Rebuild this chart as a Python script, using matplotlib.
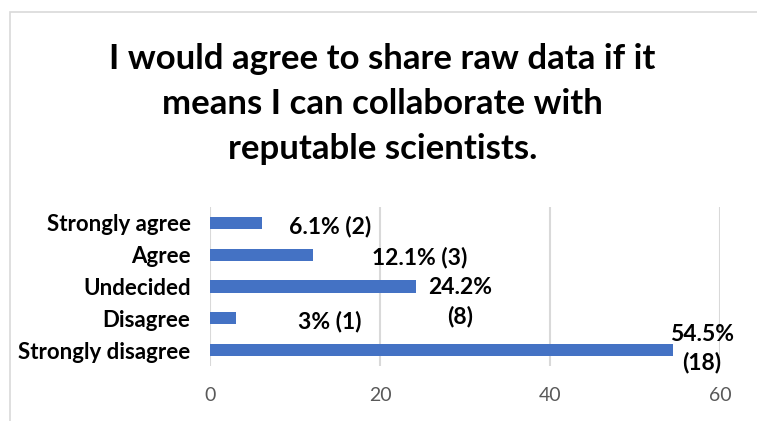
import matplotlib
matplotlib.use("Agg")
import matplotlib.pyplot as plt
from matplotlib.patches import Rectangle

plt.rcParams['font.family'] = ['Lato', 'DejaVu Sans']

categories = ["Strongly agree", "Agree", "Undecided", "Disagree", "Strongly disagree"]
percents = [6.1, 12.1, 24.2, 3, 54.5]
counts = [2, 3, 8, 1, 18]
label_breaks = [False, False, True, False, True]
# label anchor offsets (data units) from the bar end
label_dx = [8.0, 12.6, 5.2, 11.1, 3.4]
label_dy = [0.1, 0.1, 0.5, 0.1, -0.05]

title = "I would agree to share raw data if it\nmeans I can collaborate with\nreputable scientists."
xticks = [0, 20, 40, 60]

W, H = 757, 421
fig = plt.figure(figsize=(W / 100, H / 100), dpi=100)

# chart frame
fig.patches.append(Rectangle((10 / W, -0.1), 1.2, (H - 12) / H + 0.1,
                             transform=fig.transFigure, fill=False,
                             edgecolor="#d9d9d9", linewidth=1.2))

ax = fig.add_axes([210 / W, (H - 366) / H, 510 / W, 159 / H])
y = list(range(len(categories)))
ax.barh(y, percents, height=0.38, color="#4472C4", zorder=3)
ax.set_ylim(len(categories) - 0.5, -0.5)
ax.set_xlim(0, 60)
ax.set_xticks(xticks)
ax.set_xticklabels([str(t) for t in xticks], color="#595959", fontsize=14)
ax.set_yticks(y)
ax.set_yticklabels(categories, fontsize=16, fontweight="bold", color="black")
ax.tick_params(axis="both", length=0)
ax.tick_params(axis="x", pad=15)
ax.tick_params(axis="y", pad=14)
for s in ax.spines.values():
    s.set_visible(False)
ax.grid(axis="x", color="#d9d9d9", linewidth=1.5, zorder=0)
ax.set_axisbelow(True)

for i, (p, n) in enumerate(zip(percents, counts)):
    sep = "\n" if label_breaks[i] else " "
    txt = f"{p:g}%{sep}({n})"
    ax.text(p + label_dx[i], i + label_dy[i], txt, ha="center", va="center",
            fontsize=16.5, fontweight="bold", color="black",
            linespacing=1.4, zorder=4)

fig.text(0.5 + 4 / W, (H - 104) / H, title, ha="center", va="center",
         fontsize=25, fontweight="bold", color="black", linespacing=1.5)

fig.savefig("out.png", dpi=100, facecolor="white")
